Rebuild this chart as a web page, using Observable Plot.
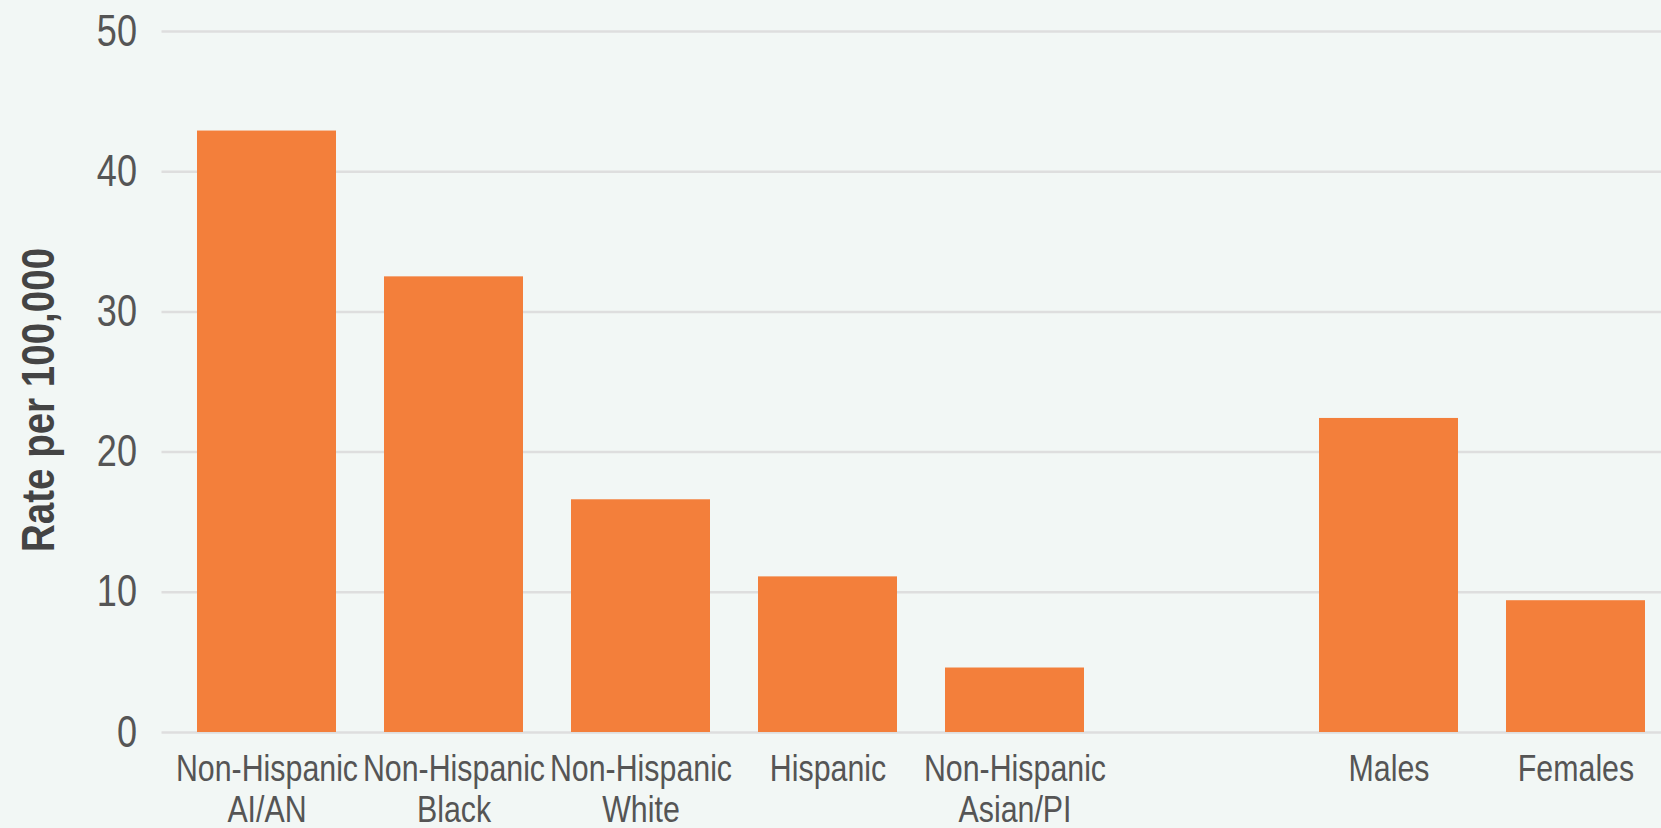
<!DOCTYPE html>
<html><head><meta charset="utf-8">
<script src="https://cdn.jsdelivr.net/npm/d3@7"></script>
<script src="https://cdn.jsdelivr.net/npm/@observablehq/plot@0.6"></script>
<style>
html,body{margin:0;padding:0;background:#f2f7f5;}
#chart{width:1661px;height:828px;overflow:hidden;}
</style></head><body><div id="chart"></div>
<script>
const categories = ["Non-Hispanic AI/AN","Non-Hispanic Black","Non-Hispanic White","Hispanic","Non-Hispanic Asian/PI","Males","Females"];
const tickLabels = ["Non-Hispanic\nAI/AN","Non-Hispanic\nBlack","Non-Hispanic\nWhite","Hispanic","Non-Hispanic\nAsian/PI","Males","Females"];
const rates = [42.9, 32.5, 16.6, 11.1, 4.6, 22.4, 9.4];
const raceCount = 5;
const yTicks = [0, 10, 20, 30, 40, 50];
const yLabel = "Rate per 100,000";
const spacer = " ";

const FONT = "'Liberation Sans',Arial,sans-serif";
const NARROW = 0.82; // horizontal squeeze to mimic a condensed face
const data = categories.map((c, i) => ({category: c, rate: rates[i]}));
const domain = [...categories.slice(0, raceCount), spacer, ...categories.slice(raceCount)];

const chart = Plot.plot({
  width: 1661, height: 828,
  marginLeft: 161.5, marginRight: 0, marginTop: 31, marginBottom: 96,
  style: {background: "#f2f7f5", fontFamily: FONT, color: "#555", overflow: "visible"},
  x: {domain, paddingInner: 0.256, paddingOuter: 0.125, align: 0.7, axis: null},
  y: {domain: [0, 50], axis: null},
  marks: [
    Plot.gridY(yTicks, {stroke: "#dedede", strokeOpacity: 1, strokeWidth: 2.5}),
    Plot.axisY(yTicks, {tickSize: 0, tickPadding: 25, fontSize: 44, label: null, fill: "#555"}),
    Plot.axisX(categories, {tickSize: 0, tickPadding: 19, fontSize: 37, lineHeight: 1.11, label: null, fill: "#555",
      tickFormat: d => tickLabels[categories.indexOf(d)]}),
    Plot.barY(data, {x: "category", y: "rate", fill: "#f37f3b"}),
    Plot.text([yLabel], {frameAnchor: "left", textAnchor: "middle", rotate: -90, dx: -123, dy: 18, fontSize: 47, fontWeight: "bold", fill: "#444"})
  ]
});
document.getElementById("chart").append(chart);
// squeeze every text horizontally (in its own frame) to imitate the condensed typeface
chart.querySelectorAll("text").forEach(t => {
  const b = t.getBBox();
  const anchor = getComputedStyle(t).textAnchor;
  const px = anchor === "end" ? b.x + b.width : anchor === "start" ? b.x : b.x + b.width / 2;
  const tr = t.getAttribute("transform") || "";
  t.setAttribute("transform", `${tr} translate(${px},0) scale(${NARROW},1) translate(${-px},0)`);
});
</script></body></html>
